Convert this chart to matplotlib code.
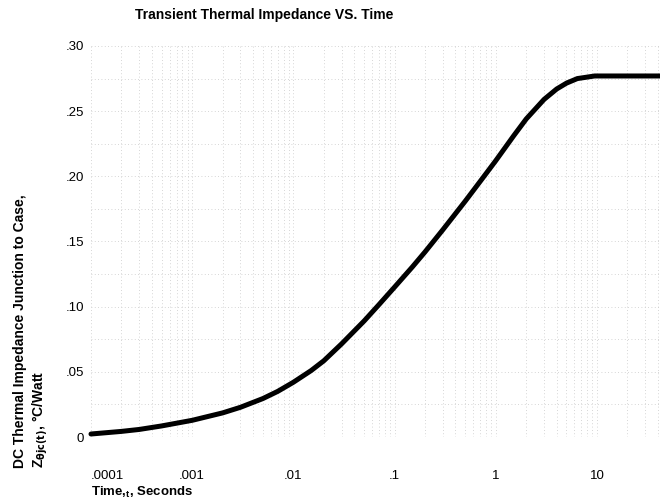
import numpy as np
import matplotlib
matplotlib.use("Agg")
import matplotlib.pyplot as plt
from matplotlib.ticker import FixedLocator, NullFormatter

plt.rcParams['font.family'] = ['Liberation Sans', 'DejaVu Sans']

# values
time_s = [1e-4, 2e-4, 3e-4, 5e-4, 1e-3, 2e-3, 3e-3, 5e-3, 7e-3, 1e-2, 1.5e-2,
          2e-2, 3e-2, 5e-2, 7e-2, 0.1, 0.15, 0.2, 0.3, 0.5, 0.7, 1, 1.5, 2,
          3, 4, 5, 6.4, 9.5, 42]
z_jc = [0.0023, 0.0043, 0.0058, 0.0085, 0.0128, 0.0185, 0.0228, 0.0295,
        0.0350, 0.0420, 0.0510, 0.0585, 0.0715, 0.0890, 0.1015, 0.1150,
        0.1305, 0.1420, 0.1590, 0.1810, 0.1960, 0.2120, 0.2310, 0.2440,
        0.2590, 0.2670, 0.2715, 0.2750, 0.2770, 0.2770]

x_ticks = [1e-4, 1e-3, 1e-2, 1e-1, 1, 10]
x_labels = ['.0001', '.001', '.01', '.1', '1', '10']
y_ticks = [0, 0.05, 0.10, 0.15, 0.20, 0.25, 0.30]
y_labels = ['0', '.05', '.10', '.15', '.20', '.25', '.30']

fig = plt.figure(figsize=(6.6, 4.98), dpi=100)
ax = fig.add_axes([91/660, 1 - 437/498, 1 - 91/660, (437 - 46)/498])

ax.plot(time_s, z_jc, color='black', lw=3.6, solid_capstyle='round',
        solid_joinstyle='round', clip_on=False)

ax.set_xscale('log')
ax.set_xlim(1e-4, 42)
ax.set_ylim(0, 0.30)

# faint grid like the printed graph paper
minor_x = [m * 10.0**e for e in range(-4, 2) for m in range(2, 10)]
ax.xaxis.set_minor_locator(FixedLocator(minor_x))
ax.xaxis.set_minor_formatter(NullFormatter())
ax.yaxis.set_minor_locator(FixedLocator(np.arange(0.025, 0.30, 0.05)))
ax.grid(True, which='both', color='#c8c8c8', lw=0.6, ls=(0, (1, 3)))

ax.set_xticks(x_ticks)
ax.set_xticklabels(x_labels)
ax.set_yticks(y_ticks)
ax.set_yticklabels(y_labels)
ax.tick_params(axis='both', which='both', length=0, labelsize=9.5)
ax.tick_params(axis='x', pad=24)
ax.tick_params(axis='y', pad=5)
ax.get_xticklabels()[0].set_horizontalalignment('left')

for s in ax.spines.values():
    s.set_visible(False)

fig.text(135/660, 1 - 15/498, 'Transient Thermal Impedance VS. Time',
         fontsize=10, fontweight='bold', ha='left', va='center')
fig.text(91/660, 1 - 492/498, r'Time,$_\mathregular{t}$, Seconds',
         fontsize=9.5, fontweight='bold', ha='left', va='center')
fig.text(20/660, 1 - 468/498, 'DC Thermal Impedance Junction to Case,',
         fontsize=10, fontweight='bold', rotation=90, ha='center', va='bottom')
fig.text(40/660, 1 - 468/498, r'Z$_{\mathbf{\theta jc(t)}}$, °C/Watt',
         fontsize=10, fontweight='bold', rotation=90, ha='center', va='bottom')

fig.savefig('out.png', dpi=100)
